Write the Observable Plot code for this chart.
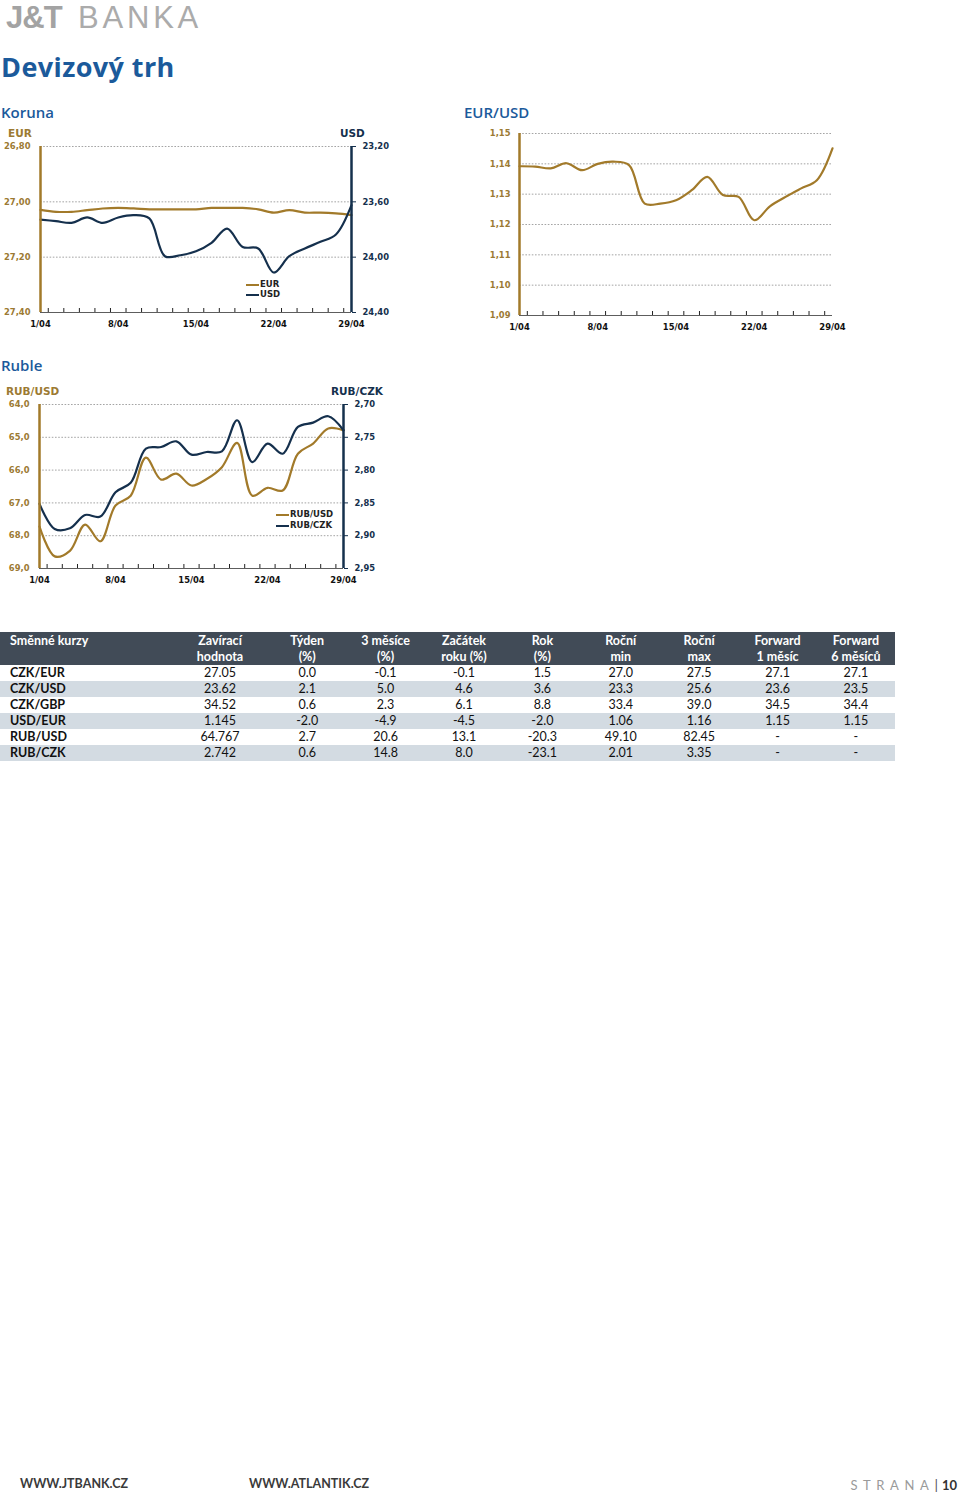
<!DOCTYPE html>
<html lang="cs"><head><meta charset="utf-8">
<script src="https://cdn.jsdelivr.net/npm/d3@7"></script>
<script src="https://cdn.jsdelivr.net/npm/@observablehq/plot@0.6"></script>
<style>
html,body{margin:0;padding:0;background:#fff;}
#page{position:relative;width:960px;height:1495px;overflow:hidden;font-family:Lato,"Open Sans",sans-serif;}
.a{position:absolute;white-space:nowrap;}
.sec{font-family:"Open Sans";font-weight:600;font-size:15px;color:#1b5a9b;line-height:15px;}
.axt{font-family:"DejaVu Sans";font-weight:bold;font-size:10.5px;line-height:11px;}
.leg{font-family:"DejaVu Sans";font-weight:bold;font-size:8.5px;color:#222;line-height:10px;}
.leg i{display:inline-block;width:13px;height:2px;vertical-align:middle;margin-right:1px;}
table.fx{border-collapse:collapse;table-layout:fixed;font-family:Lato;font-size:12.5px;color:#111;}
table.fx td{padding:0;height:16px;line-height:16px;text-align:center;white-space:nowrap;}
table.fx td:first-child{text-align:left;padding-left:10px;font-weight:bold;}
table.fx tr.h td{background:#414b57;color:#fff;font-weight:bold;line-height:15.5px;height:32px;vertical-align:middle;}
table.fx tr.h td:first-child{vertical-align:top;padding-top:1px;}
table.fx tr.g td{background:#d3dbe2;}
</style></head>
<body><div id="page"></div>
<script>
// ---------- data ----------
const dates = ["1/04","4/04","5/04","6/04","7/04","8/04","11/04","12/04","13/04","14/04","15/04","18/04","19/04","20/04","21/04","22/04","25/04","26/04","27/04","28/04","29/04"];
const czkEur = [27.029,27.036,27.036,27.030,27.024,27.022,27.024,27.027,27.027,27.027,27.027,27.022,27.022,27.022,27.027,27.039,27.030,27.039,27.039,27.042,27.048];
const czkUsd = [23.728,23.740,23.752,23.713,23.752,23.713,23.696,23.720,23.993,23.986,23.957,23.896,23.793,23.926,23.937,24.111,23.993,23.937,23.889,23.836,23.624];
const eurUsd = [1.1392,1.1391,1.1385,1.1402,1.1379,1.1400,1.1407,1.1396,1.1269,1.1269,1.1280,1.1313,1.1357,1.1297,1.1291,1.1214,1.1260,1.1291,1.1319,1.1346,1.1451];
const rubUsd = [67.72,68.63,68.46,67.66,68.17,67.08,66.78,65.62,66.29,66.11,66.47,66.27,65.91,65.17,66.78,66.54,66.62,65.50,65.19,64.73,64.79];
const rubCzk = [2.8515,2.8898,2.8888,2.8684,2.8709,2.8337,2.8194,2.7673,2.7648,2.7561,2.7765,2.7724,2.7714,2.7240,2.7878,2.7597,2.7750,2.7342,2.7276,2.7179,2.7393];

const korunaEurTicks = [26.80,27.00,27.20,27.40];
const korunaUsdTicks = [23.20,23.60,24.00,24.40];
const eurUsdTicks = [1.09,1.10,1.11,1.12,1.13,1.14,1.15];
const rubUsdTicks = [64,65,66,67,68,69];
const rubCzkTicks = [2.70,2.75,2.80,2.85,2.90,2.95];

const rateNames = ["CZK/EUR","CZK/USD","CZK/GBP","USD/EUR","RUB/USD","RUB/CZK"];
const colHeads = [["Směnné kurzy",""],["Zavírací","hodnota"],["Týden","(%)"],["3 měsíce","(%)"],["Začátek","roku (%)"],["Rok","(%)"],["Roční","min"],["Roční","max"],["Forward","1 měsíc"],["Forward","6 měsíců"]];
const closeVals = ["27.05","23.62","34.52","1.145","64.767","2.742"];
const weekChg = ["0.0","2.1","0.6","-2.0","2.7","0.6"];
const m3Chg = ["-0.1","5.0","2.3","-4.9","20.6","14.8"];
const ytdChg = ["-0.1","4.6","6.1","-4.5","13.1","8.0"];
const yearChg = ["1.5","3.6","8.8","-2.0","-20.3","-23.1"];
const yearMin = ["27.0","23.3","33.4","1.06","49.10","2.01"];
const yearMax = ["27.5","25.6","39.0","1.16","82.45","3.35"];
const fwd1 = ["27.1","23.6","34.5","1.15","-","-"];
const fwd6 = ["27.1","23.5","34.4","1.15","-","-"];

// ---------- helpers ----------
const gold = "#a27a2a", navy = "#15304d", goldText = "#9c7a33";
const page = document.getElementById("page");
function add(html, cls, css) {
  const d = document.createElement("div");
  d.className = "a " + (cls || "");
  d.style.cssText = css;
  d.innerHTML = html;
  page.appendChild(d);
  return d;
}
const comma = k => v => v.toFixed(k).replace(".", ",");

function dualChart(o) {
  const n = dates.length;
  const [L0, L1] = o.lDom;
  const toL = o.rDom ? r => L0 + (r - o.rDom[0]) * (L1 - L0) / (o.rDom[1] - o.rDom[0]) : r => r;
  const toR = o.rDom ? l => o.rDom[0] + (l - L0) * (o.rDom[1] - o.rDom[0]) / (L1 - L0) : l => l;
  const marks = [
    Plot.ruleY(o.lTicks.filter(t => t !== o.base), {stroke: "#9a9a9a", strokeWidth: 0.9, strokeDasharray: "1.6,1.6"}),
    Plot.ruleY([o.base], {stroke: "#333", strokeWidth: 0.8}),
    Plot.axisX({ticks: d3.range(0.5, n - 1, 1), tickSize: -4, tickFormat: () => "", color: "#222", label: null}),
    Plot.axisX({ticks: d3.range(0, n, 5), tickSize: 0, tickPadding: 9, tickFormat: i => dates[i], color: "#111", label: null}),
    Plot.axisY({ticks: o.lTicks, tickSize: 0, tickPadding: o.lPad, tickFormat: o.lFmt, color: goldText, label: null})
  ];
  for (const s of o.series) {
    marks.push(Plot.line(s.values.map((v, i) => ({i, v: s.right ? toL(v) : v})),
      {x: "i", y: "v", stroke: s.color, strokeWidth: 2.2, curve: "catmull-rom"}));
  }
  if (o.rDom) {
    marks.push(Plot.axisY({anchor: "right", ticks: o.rTicks.map(toL), tickSize: 4, tickPadding: 7,
      tickFormat: v => o.rFmt(toR(v)), color: navy, label: null}));
    marks.push(Plot.ruleX([n - 1], {stroke: navy, strokeWidth: 2.5}));
  }
  marks.push(Plot.ruleX([0], {stroke: gold, strokeWidth: 2.5}));
  const svg = Plot.plot({
    width: o.width, height: o.height,
    marginLeft: o.ml, marginRight: o.mr, marginTop: o.mt, marginBottom: o.mb,
    style: {background: "transparent", fontFamily: "DejaVu Sans", fontWeight: "bold", fontSize: "8.4px", overflow: "visible"},
    x: {domain: [0, n - 1]},
    y: {domain: o.lDom, reverse: o.reverse},
    marks
  });
  const wrap = add("", "", `left:${o.left}px;top:${o.top}px;`);
  wrap.appendChild(svg);
}

// ---------- header ----------
add("J&amp;T", "", "left:6px;top:0px;font-family:'Liberation Sans';font-weight:bold;font-size:31px;color:#a3a3a3;letter-spacing:-1px;");
add("BANKA", "", "left:78px;top:0px;font-family:'Liberation Sans';font-size:31px;color:#ababab;letter-spacing:3.8px;");
add("Devizový trh", "", "left:1px;top:48px;font-family:'Open Sans';font-weight:bold;font-size:27px;color:#1b5a9b;letter-spacing:0.4px;");

// ---------- Koruna ----------
add("Koruna", "sec", "left:1px;top:105px;");
add("EUR", "axt", `left:8px;top:128px;color:${goldText};`);
add("USD", "axt", `left:340px;top:128px;color:${navy};`);
dualChart({left: 0, top: 126, width: 400, height: 210, ml: 40, mr: 49, mt: 20, mb: 24,
  lDom: [26.80, 27.40], reverse: true, lTicks: korunaEurTicks, lFmt: comma(2), lPad: 10, base: 27.40,
  rDom: [23.20, 24.40], rTicks: korunaUsdTicks, rFmt: comma(2),
  series: [{values: czkEur, color: gold}, {values: czkUsd, color: navy, right: true}]});
add(`<i style="background:${gold}"></i>EUR`, "leg", "left:246px;top:279px;");
add(`<i style="background:${navy}"></i>USD`, "leg", "left:246px;top:289px;");

// ---------- EUR/USD ----------
add("EUR/USD", "sec", "left:464px;top:105px;");
dualChart({left: 460, top: 120, width: 420, height: 220, ml: 59, mr: 48, mt: 13, mb: 25,
  lDom: [1.09, 1.15], reverse: false, lTicks: eurUsdTicks, lFmt: comma(2), lPad: 9, base: 1.09,
  series: [{values: eurUsd, color: gold}]});

// ---------- Ruble ----------
add("Ruble", "sec", "left:1px;top:358px;");
add("RUB/USD", "axt", `left:6px;top:386px;color:${goldText};`);
add("RUB/CZK", "axt", `left:331px;top:386px;color:${navy};`);
dualChart({left: 0, top: 384, width: 400, height: 210, ml: 39, mr: 57, mt: 20, mb: 26,
  lDom: [64, 69], reverse: true, lTicks: rubUsdTicks, lFmt: comma(1), lPad: 10, base: 69,
  rDom: [2.70, 2.95], rTicks: rubCzkTicks, rFmt: comma(2),
  series: [{values: rubUsd, color: gold}, {values: rubCzk, color: navy, right: true}]});
add(`<i style="background:${gold}"></i>RUB/USD`, "leg", "left:276px;top:509px;");
add(`<i style="background:${navy}"></i>RUB/CZK`, "leg", "left:276px;top:520px;");

// ---------- table ----------
const colWidths = [172, 96, 78.4, 78.4, 78.4, 78.4, 78.4, 78.4, 78.4, 78.4];
const cols = [closeVals, weekChg, m3Chg, ytdChg, yearChg, yearMin, yearMax, fwd1, fwd6];
let t = `<table class="fx" style="width:895px"><colgroup>${colWidths.map(w => `<col style="width:${w}px">`).join("")}</colgroup>`;
t += `<tr class="h">${colHeads.map(h => `<td>${h[0]}${h[1] ? "<br>" + h[1] : ""}</td>`).join("")}</tr>`;
rateNames.forEach((r, i) => {
  t += `<tr class="${i % 2 ? "g" : ""}"><td>${r}</td>${cols.map(c => `<td>${c[i]}</td>`).join("")}</tr>`;
});
t += "</table>";
add(t, "", "left:0;top:632px;");

// ---------- footer ----------
add("WWW.JTBANK.CZ", "", "left:20px;top:1476px;font-family:Lato;font-weight:bold;font-size:12.5px;color:#3a3a3a;");
add("WWW.ATLANTIK.CZ", "", "left:249px;top:1476px;font-family:Lato;font-weight:bold;font-size:12.5px;color:#3a3a3a;");
add(`<span style="color:#9a9a9a;letter-spacing:5.6px;font-size:13px;">STRANA</span><span style="color:#555;font-size:14px;margin:0 4px 0 0;">|</span><b style="color:#333;font-size:13px;">10</b>`, "", "right:3px;top:1474px;font-family:Lato;");
</script></body></html>
